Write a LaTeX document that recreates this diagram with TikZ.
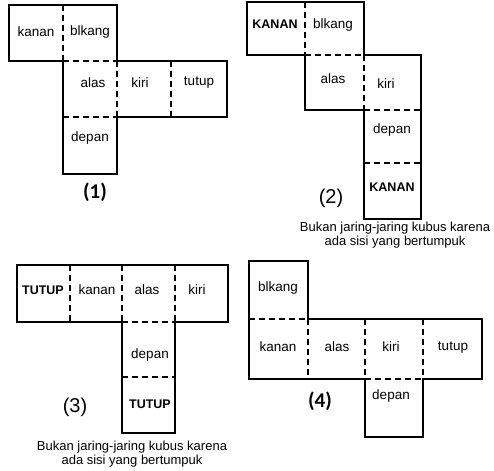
\documentclass[tikz,border=0pt]{standalone}
\usepackage{fontspec}
\setmainfont{Liberation Sans}
\newfontfamily\numfont{Carlito}
\tikzset{
  outline/.style={draw=black, line width=1.5pt, line join=miter},
  fold/.style={draw=black, line width=1.5pt, dash pattern=on 6pt off 4pt},
  face/.style={inner sep=0pt, font=\fontsize{13.5}{15}\selectfont},
  bigface/.style={inner sep=0pt, font=\fontsize{12.5}{14}\selectfont\bfseries},
  netno/.style={inner sep=0pt, font=\numfont\fontsize{21}{24}\selectfont\bfseries},
  netnoB/.style={inner sep=0pt, font=\fontsize{20}{22}\selectfont},
  note/.style={inner sep=0pt, align=center, font=\fontsize{13}{13.5}\selectfont}
}
\begin{document}
\begin{tikzpicture}[x=1pt, y=-1pt]
\path[use as bounding box, fill=white] (0,0) rectangle (494,470);

% ---------- net (1) ----------
\draw[outline] (9,5) -- (117,5) -- (117,61) -- (227,61) -- (227,117) -- (117,117)
  -- (117,174) -- (63,174) -- (63,61) -- (9,61) -- cycle;
\draw[fold] (63,5) -- (63,61);
\draw[fold] (63,61) -- (117,61);
\draw[fold] (117,61) -- (117,117);
\draw[fold] (171,61) -- (171,117);
\draw[fold] (63,117) -- (117,117);
\node[face] (a-kanan) at (36,32) {kanan};
\node[face] (a-blkang) at (90,32) {blkang};
\node[face] (a-alas) at (93,83) {alas};
\node[face] (a-kiri) at (140,83) {kiri};
\node[face] (a-tutup) at (199,83) {tutup};
\node[face] (a-depan) at (90,138) {depan};
\node[netno] (a-no) at (95,192) {(1)};

% ---------- net (2) ----------
\draw[outline] (247,2) -- (364,2) -- (364,55) -- (421,55) -- (421,219) -- (364,219)
  -- (364,110) -- (305,110) -- (305,55) -- (247,55) -- cycle;
\draw[fold] (305,2) -- (305,55);
\draw[fold] (305,55) -- (364,55);
\draw[fold] (364,55) -- (364,110);
\draw[fold] (364,110) -- (421,110);
\draw[fold] (364,163) -- (421,163);
\node[bigface] (b-kanan) at (275,24) {KANAN};
\node[face] (b-blkang) at (333,25) {blkang};
\node[face] (b-alas) at (333,79) {alas};
\node[face] (b-kiri) at (386,84) {kiri};
\node[face] (b-depan) at (392,130) {depan};
\node[bigface] (b-kanan2) at (392,187) {KANAN};
\node[netnoB] (b-no) at (331,198) {(2)};
\node[note] (b-note) at (395,235) {Bukan jaring-jaring kubus karena\\ada sisi yang bertumpuk};

% ---------- net (3) ----------
\draw[outline] (17,265) -- (228,265) -- (228,322) -- (175,322) -- (175,433) -- (122,433)
  -- (122,322) -- (17,322) -- cycle;
\draw[fold] (70,265) -- (70,322);
\draw[fold] (122,265) -- (122,322);
\draw[fold] (175,265) -- (175,322);
\draw[fold] (122,322) -- (175,322);
\draw[fold] (122,377) -- (175,377);
\node[bigface] (c-tutup) at (43,290) {TUTUP};
\node[face] (c-kanan) at (97,290) {kanan};
\node[face] (c-alas) at (147,290) {alas};
\node[face] (c-kiri) at (197,290) {kiri};
\node[face] (c-depan) at (150,355) {depan};
\node[bigface] (c-tutup2) at (150,404) {TUTUP};
\node[netnoB] (c-no) at (75,407) {(3)};
\node[note] (c-note) at (132,454) {Bukan jaring-jaring kubus karena\\ada sisi yang bertumpuk};

% ---------- net (4) ----------
\draw[outline] (249,261) -- (308,261) -- (308,319) -- (482,319) -- (482,379) -- (423,379)
  -- (423,437) -- (365,437) -- (365,379) -- (249,379) -- cycle;
\draw[fold] (249,319) -- (308,319);
\draw[fold] (308,319) -- (308,379);
\draw[fold] (365,319) -- (365,379);
\draw[fold] (423,319) -- (423,379);
\draw[fold] (365,379) -- (423,379);
\node[face] (d-blkang) at (278,288) {blkang};
\node[face] (d-kanan) at (278,347) {kanan};
\node[face] (d-alas) at (337,347) {alas};
\node[face] (d-kiri) at (391,347) {kiri};
\node[face] (d-tutup) at (453,348) {tutup};
\node[face] (d-depan) at (391,396) {depan};
\node[netno] (d-no) at (320,401) {(4)};
\end{tikzpicture}
\end{document}
